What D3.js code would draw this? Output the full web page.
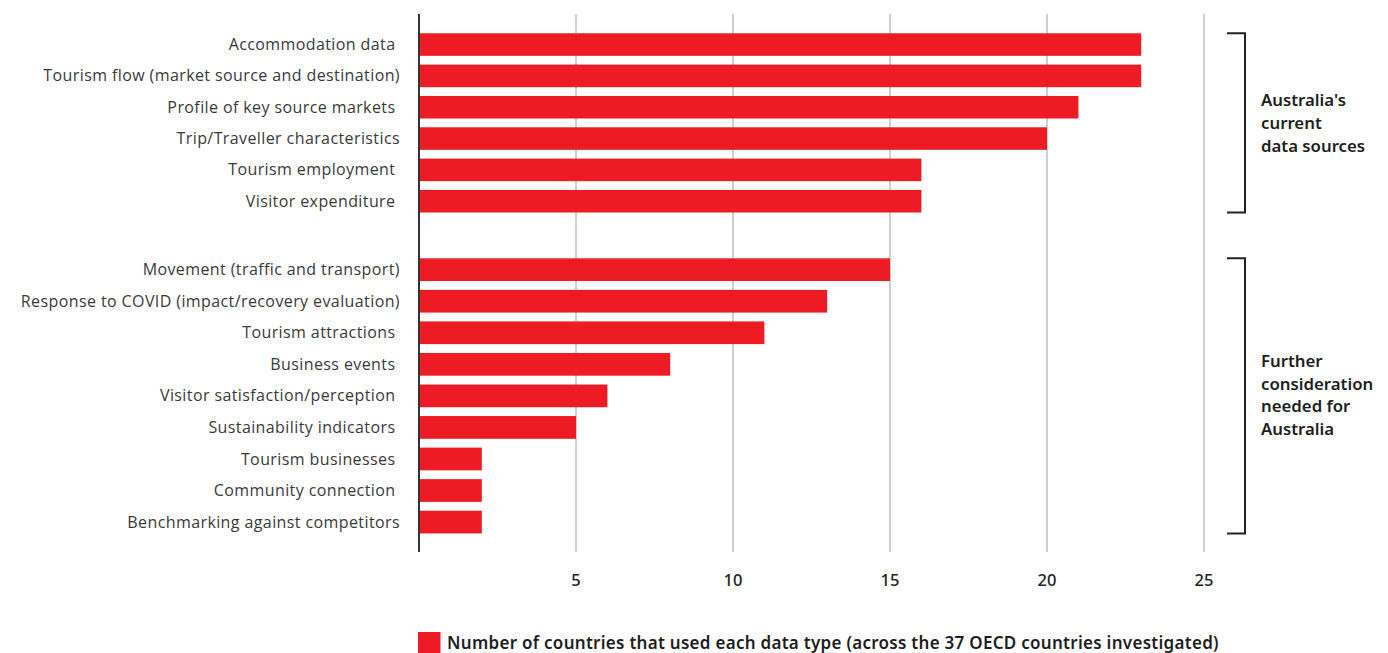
<!DOCTYPE html>
<html>
<head>
<meta charset="utf-8">
<script src="https://cdn.jsdelivr.net/npm/d3@7/dist/d3.min.js"></script>
<style>
  html, body { margin: 0; padding: 0; background: #fff; }
  svg { display: block; }
  .lbl { white-space: pre; }
</style>
</head>
<body>
<svg id="chart" width="1388" height="653"></svg>
<script>
// ---- data ----
const groupACategories = [
  "Accommodation data ",
  "Tourism flow (market source and destination)",
  "Profile of key source markets ",
  "Trip/Traveller characteristics",
  "Tourism employment ",
  "Visitor expenditure "
];
const groupAValues = [23, 23, 21, 20, 16, 16];

const groupBCategories = [
  "Movement (traffic and transport)",
  "Response to COVID (impact/recovery evaluation)",
  "Tourism attractions ",
  "Business events ",
  "Visitor satisfaction/perception ",
  "Sustainability indicators ",
  "Tourism businesses ",
  "Community connection ",
  "Benchmarking against competitors"
];
const groupBValues = [15, 13, 11, 8, 6, 5, 2, 2, 2];

const xTicks = [5, 10, 15, 20, 25];
const groupALabel = ["Australia's", "current", "data sources"];
const groupBLabel = ["Further", "consideration", "needed for", "Australia"];
const legendLabel = "Number of countries that used each data type (across the 37 OECD countries investigated)";

// ---- layout ----
const RED = "#ED1C24";
const svg = d3.select("#chart");
const x0 = 419;
const x = d3.scaleLinear().domain([0, 25]).range([x0, x0 + 785]);

const yA = d3.scaleBand().domain(groupACategories)
  .range([28.9, 28.9 + 6 * 31.33]).paddingInner(0.28).paddingOuter(0.14);
const yB = d3.scaleBand().domain(groupBCategories)
  .range([253.9, 253.9 + 9 * 31.55]).paddingInner(0.28).paddingOuter(0.14);

const plotTop = 14, plotBottom = 552;

// gridlines
svg.append("g").selectAll("line").data(xTicks).join("line")
  .attr("x1", d => x(d)).attr("x2", d => x(d))
  .attr("y1", plotTop).attr("y2", plotBottom)
  .attr("stroke", "#cfcfcf").attr("stroke-width", 2);

// tick labels
svg.append("g").selectAll("text").data(xTicks).join("text")
  .attr("x", d => x(d)).attr("y", 585.5)
  .attr("text-anchor", "middle")
  .attr("font-family", "'Noto Sans', sans-serif")
  .attr("font-size", 16.5).attr("font-weight", 500)
  .attr("fill", "#222")
  .text(d => d);

function drawGroup(cats, vals, y) {
  const g = svg.append("g");
  g.selectAll("rect").data(cats).join("rect")
    .attr("x", x(0)).attr("y", d => y(d))
    .attr("width", (d, i) => x(vals[i]) - x(0))
    .attr("height", y.bandwidth())
    .attr("fill", RED);
  g.selectAll("text").data(cats).join("text")
    .attr("class", "lbl")
    .attr("x", 400).attr("y", d => y(d) + y.bandwidth() / 2)
    .attr("dy", "0.35em")
    .attr("text-anchor", "end")
    .attr("font-family", "'Open Sans', sans-serif")
    .attr("font-size", 16)
    .attr("letter-spacing", 0.4)
    .attr("fill", "#3a3a3a")
    .text(d => d);
}
drawGroup(groupACategories, groupAValues, yA);
drawGroup(groupBCategories, groupBValues, yB);

// axis line
svg.append("line")
  .attr("x1", x(0)).attr("x2", x(0))
  .attr("y1", plotTop).attr("y2", plotBottom)
  .attr("stroke", "#333").attr("stroke-width", 2);

// brackets
function bracket(y, cats, lines, textBaseline) {
  const top = y(cats[0]);
  const bottom = y(cats[cats.length - 1]) + y.bandwidth();
  const bx = 1245, bl = 1227;
  svg.append("path")
    .attr("d", `M${bl},${top}H${bx}V${bottom}H${bl}`)
    .attr("fill", "none").attr("stroke", "#222").attr("stroke-width", 2);
  const t = svg.append("text")
    .attr("x", 1261)
    .attr("font-family", "'Noto Sans', sans-serif")
    .attr("font-size", 16.8).attr("font-weight", 600)
    .attr("fill", "#1e1e1e");
  lines.forEach((l, i) => {
    t.append("tspan").attr("x", 1261).attr("y", textBaseline + i * 22.8).text(l);
  });
}
bracket(yA, groupACategories, groupALabel, 106);
bracket(yB, groupBCategories, groupBLabel, 366.7);

// legend
svg.append("rect").attr("x", 418).attr("y", 632).attr("width", 22.5).attr("height", 21).attr("fill", RED);
svg.append("text").attr("x", 447).attr("y", 648.5)
  .attr("font-family", "'Noto Sans', sans-serif")
  .attr("font-size", 17).attr("font-weight", 600)
  .attr("letter-spacing", 0.28)
  .attr("fill", "#1e1e1e")
  .text(legendLabel);
</script>
</body>
</html>
